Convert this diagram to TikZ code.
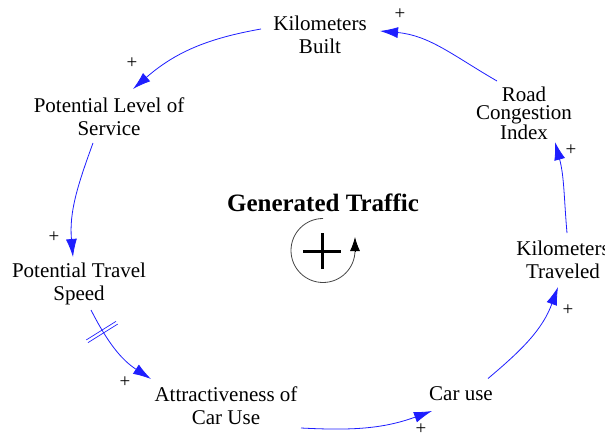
\documentclass[tikz,border=0pt]{standalone}
\usepackage{fontspec}
\setmainfont{Liberation Serif}
\usetikzlibrary{arrows.meta}
\definecolor{linkblue}{RGB}{30,30,255}
\definecolor{loopgray}{RGB}{70,70,70}
\begin{document}
\begin{tikzpicture}[x=1pt,y=1pt,
  lbl/.style={font=\fontsize{21}{23}\selectfont, align=center, inner sep=0pt},
  sgn/.style={font=\fontsize{19}{20}\selectfont, inner sep=0pt},
  arr/.style={draw=linkblue, line width=0.8pt, -{Latex[length=18pt,width=11pt]}},
]
\useasboundingbox (0,0) rectangle (605,437);
\fill[white] (0,0) rectangle (605,437);

% variables
\node[lbl] (kb)  at (320,402.5) {Kilometers\\Built};
\node[lbl] (pls) at (109,320)   {Potential Level of\\Service};
\node[lbl, font=\fontsize{21}{18.5}\selectfont] (rci) at (524,323.5) {Road\\Congestion\\Index};
\node[lbl] (kt)  at (563,177)   {Kilometers\\Traveled};
\node[lbl] (pts) at (79,153.5)  {Potential Travel\\Speed};
\node[lbl] (acu) at (226,31)    {Attractiveness of\\Car Use};
\node[lbl] (cu)  at (461,43.5)  {Car use};

% title
\node[font=\bfseries\fontsize{25}{28}\selectfont, inner sep=0pt, anchor=base] (title) at (323,225) {Generated Traffic};

% links
\draw[arr] ([shift={(-59pt,5.5pt)}]kb.center) to[out=190,in=41] ([shift={(24pt,28pt)}]pls.center);
\draw[arr] ([shift={(-16pt,-26pt)}]pls.center) to[out=250,in=95] ([shift={(-6pt,26.5pt)}]pts.center);
\draw[arr] ([shift={(12pt,-26.5pt)}]pts.center) to[out=297,in=147] ([shift={(-75pt,27pt)}]acu.center);
\draw[arr] ([shift={(75pt,-22pt)}]acu.center) to[out=-3,in=200] ([shift={(-29pt,-17.5pt)}]cu.center);
\draw[arr] ([shift={(27pt,15pt)}]cu.center) to[out=40,in=250] ([shift={(-5pt,-27pt)}]kt.center);
\draw[arr] ([shift={(4pt,27pt)}]kt.center) to[out=95,in=285] ([shift={(31pt,-28.5pt)}]rci.center);
\draw[arr] ([shift={(-27pt,32.5pt)}]rci.center) to[out=150,in=355] ([shift={(60pt,3.5pt)}]kb.center);

% delay mark
\draw[linkblue, line width=0.7pt, shift={(102,105)}, rotate=32]
  (-17.5,-1.6) -- (17.5,-1.6) (-17.5,1.6) -- (17.5,1.6);

% polarities
\node[sgn] (p1) at (400,423) {+};
\node[sgn] (p2) at (132,374) {+};
\node[sgn] (p3) at (54,200)  {+};
\node[sgn] (p4) at (125,55)  {+};
\node[sgn] (p5) at (421,8)   {+};
\node[sgn] (p6) at (568,127) {+};
\node[sgn] (p7) at (571,287) {+};

% loop symbol
\draw[loopgray, line width=0.8pt] (323,218.5) arc[start angle=90, end angle=360, radius=32];
\draw[black, line width=0.8pt, -{Latex[length=14pt,width=10pt]}] (355,185.5) -- (355,200);
\draw[black, line width=3pt] (303,186) -- (341,186) (322,168) -- (322,204);
\end{tikzpicture}
\end{document}
